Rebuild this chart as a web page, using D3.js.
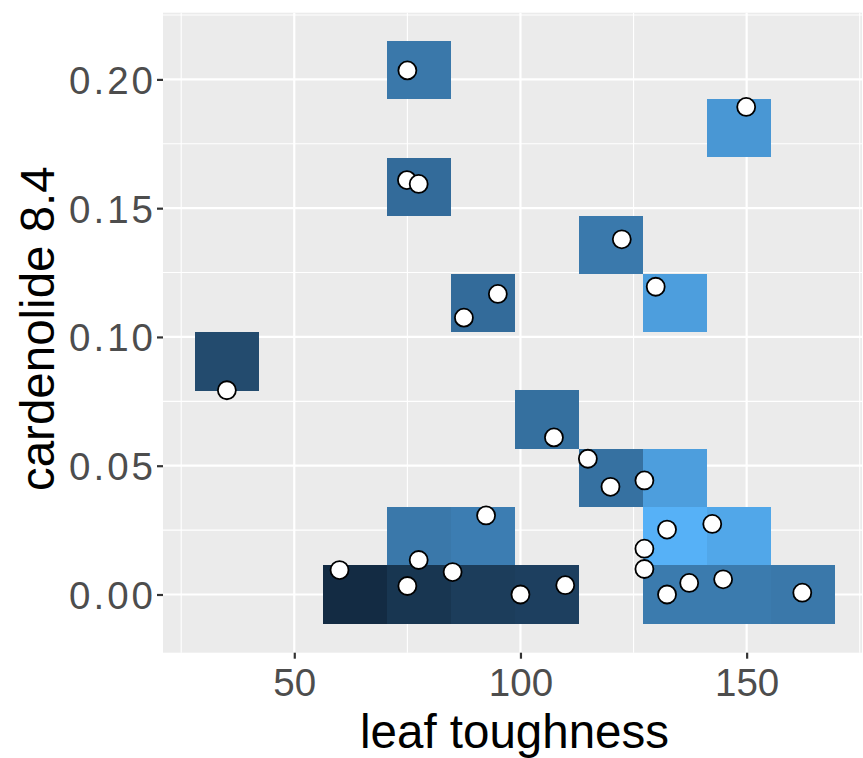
<!DOCTYPE html>
<html>
<head>
<meta charset="utf-8">
<script src="https://cdn.jsdelivr.net/npm/d3@7"></script>
<style>
  html, body { margin: 0; padding: 0; background: #ffffff; }
  svg { display: block; font-family: "Liberation Sans", Arial, Helvetica, sans-serif; }
</style>
</head>
<body>
<svg id="chart" width="863" height="758"></svg>
<script>
// ---- data ----
// binned tiles: bin centre (leaf toughness, cardenolide 8.4) and fill value (0..1)
const tileX = [35.12, 63.41, 77.56, 91.71, 105.85, 134.15, 148.30, 162.44,
               77.56, 91.71, 134.15, 148.30, 120.00, 134.15, 105.85, 91.71,
               134.15, 120.00, 77.56, 148.30, 77.56];
const tileY = [0.0905, 0.0, 0.0, 0.0, 0.0, 0.0, 0.0, 0.0,
               0.0226, 0.0226, 0.0226, 0.0226, 0.0452, 0.0452, 0.0679, 0.1131,
               0.1131, 0.1357, 0.1583, 0.1810, 0.2036];
const tileFill = [0.26, 0.0, 0.09, 0.15, 0.17, 0.62, 0.62, 0.60,
                  0.60, 0.64, 1.0, 0.93, 0.55, 0.87, 0.54, 0.51,
                  0.87, 0.61, 0.51, 0.82, 0.60];
const binWidthX = 14.147;
const binWidthY = 0.02262;

// observations
const toughness = [75.0, 74.9, 77.5, 95.0, 87.5, 149.9, 122.4, 129.9,
                   35.1, 60.0, 77.5, 75.0, 85.0, 92.4,
                   107.4, 114.9, 119.9, 127.4, 132.4, 142.4, 127.4, 127.4,
                   100.0, 109.9, 132.4, 137.3, 144.8, 162.3];
const cardenolide = [0.2035, 0.1609, 0.1594, 0.1167, 0.1075, 0.1893, 0.1379, 0.1195,
                     0.0793, 0.0095, 0.0134, 0.0033, 0.0087, 0.0307,
                     0.0610, 0.0527, 0.0418, 0.0443, 0.0252, 0.0274, 0.0178, 0.0099,
                     0.0000, 0.0036, 0.0000, 0.0045, 0.0059, 0.0007];

const xTicks = [50, 100, 150];
const xMinor = [25, 75, 125, 175];
const yTicks = [0.00, 0.05, 0.10, 0.15, 0.20];
const yMinor = [0.025, 0.075, 0.125, 0.175, 0.225];
const xTitle = "leaf toughness";
const yTitle = "cardenolide 8.4";

// ---- layout ----
const panel = { left: 163, right: 862, top: 12.7, bottom: 652.7 };
const svg = d3.select("#chart");

const x = d3.scaleLinear().domain([20.98, 175.5]).range([panel.left, panel.right]);
const y = d3.scaleLinear().domain([-0.0226, 0.2259]).range([panel.bottom, panel.top]);
const color = d3.scaleLinear().domain([0, 1]).range(["#132B43", "#56B1F7"]).interpolate(d3.interpolateLab);

// panel background
svg.append("rect")
  .attr("x", panel.left).attr("y", panel.top)
  .attr("width", panel.right - panel.left).attr("height", panel.bottom - panel.top)
  .attr("fill", "#EBEBEB");

const grid = svg.append("g");
grid.selectAll(".xminor").data(xMinor).join("line")
  .attr("x1", d => x(d)).attr("x2", d => x(d))
  .attr("y1", panel.top).attr("y2", panel.bottom)
  .attr("stroke", "#ffffff").attr("stroke-width", 1.1);
grid.selectAll(".yminor").data(yMinor).join("line")
  .attr("y1", d => y(d)).attr("y2", d => y(d))
  .attr("x1", panel.left).attr("x2", panel.right)
  .attr("stroke", "#ffffff").attr("stroke-width", 1.1);
grid.selectAll(".xmajor").data(xTicks).join("line")
  .attr("x1", d => x(d)).attr("x2", d => x(d))
  .attr("y1", panel.top).attr("y2", panel.bottom)
  .attr("stroke", "#ffffff").attr("stroke-width", 2.2);
grid.selectAll(".ymajor").data(yTicks).join("line")
  .attr("y1", d => y(d)).attr("y2", d => y(d))
  .attr("x1", panel.left).attr("x2", panel.right)
  .attr("stroke", "#ffffff").attr("stroke-width", 2.2);

// tiles
const tiles = tileX.map((d, i) => ({ x: d, y: tileY[i], f: tileFill[i] }));
svg.append("g").selectAll("rect").data(tiles).join("rect")
  .attr("x", d => x(d.x - binWidthX / 2))
  .attr("y", d => y(d.y + binWidthY / 2))
  .attr("width", d => x(d.x + binWidthX / 2) - x(d.x - binWidthX / 2))
  .attr("height", d => y(d.y - binWidthY / 2) - y(d.y + binWidthY / 2))
  .attr("fill", d => color(d.f))
  .attr("shape-rendering", "crispEdges");

// points
const pts = toughness.map((d, i) => ({ x: d, y: cardenolide[i] }));
svg.append("g").selectAll("circle").data(pts).join("circle")
  .attr("cx", d => x(d.x)).attr("cy", d => y(d.y))
  .attr("r", 9)
  .attr("fill", "#ffffff").attr("stroke", "#000000").attr("stroke-width", 1.8);

// axes
const xAxis = d3.axisBottom(x).tickValues(xTicks).tickSize(6).tickPadding(5).tickFormat(d3.format("d"));
const gx = svg.append("g").attr("transform", `translate(0,${panel.bottom})`).call(xAxis);
gx.select(".domain").remove();
gx.selectAll(".tick line").attr("stroke", "#333333").attr("stroke-width", 2.2);
gx.selectAll(".tick text").attr("fill", "#4D4D4D").attr("font-size", 38.5)
  .attr("dy", null).attr("y", 43);

const yAxis = d3.axisLeft(y).tickValues(yTicks).tickSize(6).tickPadding(5).tickFormat(d3.format(".2f"));
const gy = svg.append("g").attr("transform", `translate(${panel.left},0)`).call(yAxis);
gy.select(".domain").remove();
gy.selectAll(".tick line").attr("stroke", "#333333").attr("stroke-width", 2.2);
gy.selectAll(".tick text").attr("fill", "#4D4D4D").attr("font-size", 38.5)
  .attr("letter-spacing", 3)
  .attr("x", -7).attr("dy", "0.36em");

// titles
svg.append("text")
  .attr("x", (panel.left + panel.right) / 2 + 2).attr("y", 748)
  .attr("text-anchor", "middle").attr("font-size", 47.5).attr("fill", "#000000")
  .text(xTitle);
svg.append("text")
  .attr("transform", `translate(54,${(panel.top + panel.bottom) / 2 - 4}) rotate(-90)`)
  .attr("text-anchor", "middle").attr("font-size", 47.5).attr("fill", "#000000")
  .text(yTitle);
</script>
</body>
</html>
